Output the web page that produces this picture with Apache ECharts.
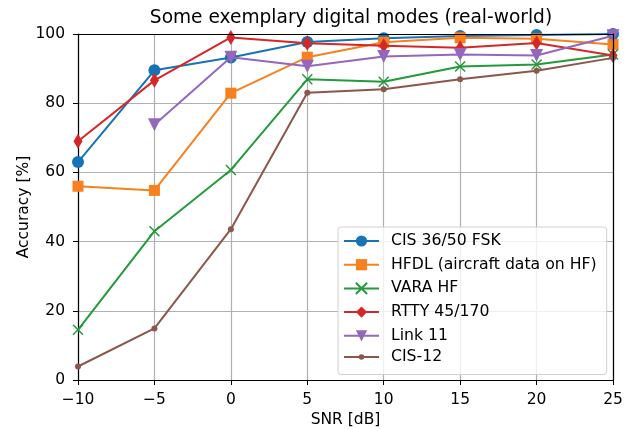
<!DOCTYPE html>
<html><head><meta charset="utf-8">
<script src="https://cdn.jsdelivr.net/npm/echarts@6/dist/echarts.min.js"></script>
<style>html,body{margin:0;padding:0;background:#fff}#c{width:631px;height:429px}</style>
</head><body><div id="c"></div>
<script>
const snr = [-10, -5, 0, 5, 10, 15, 20, 25];
const cis3650 = [63.0, 89.5, 93.2, 97.7, 98.8, 99.4, 99.7, 100];
const hfdl = [56.0, 54.8, 82.9, 93.3, 97.6, 98.9, 98.6, 97.0];
const vara = [14.5, 43.0, 60.7, 86.9, 86.2, 90.6, 91.2, 94.1];
const rtty = [69.0, 86.6, 99.0, 97.3, 96.6, 96.0, 97.4, 93.8];
const link11 = [null, 73.8, 93.3, 90.7, 93.5, 94.1, 93.8, 99.5];
const cis12 = [3.9, 14.9, 43.6, 83.0, 84.0, 86.9, 89.4, 93.1];
const names = ['CIS 36/50 FSK', 'HFDL (aircraft data on HF)', 'VARA HF', 'RTTY 45/170', 'Link 11', 'CIS-12'];
const yTicks = [0, 20, 40, 60, 80, 100];

const font = 'DejaVu Sans';
const fs = 15.5;
const pair = arr => snr.map((x, i) => [x, arr[i]]).filter(p => p[1] !== null);
const colors = ['#1673b5', '#f7801f', '#239a3b', '#d62728', '#9467bd', '#8c564b'];
const sym = [
  {symbol: 'circle', symbolSize: 12},
  {symbol: 'rect', symbolSize: 11},
  {symbol: 'path://M0,0L10,10M10,0L0,10', symbolSize: 10},
  {symbol: 'diamond', symbolSize: [9, 15]},
  {symbol: 'triangle', symbolSize: 13, symbolRotate: 180},
  {symbol: 'circle', symbolSize: 6}
];
const dataArrs = [cis3650, hfdl, vara, rtty, link11, cis12];
const series = dataArrs.map((arr, i) => {
  const s = {
    name: names[i], type: 'line', data: pair(arr),
    symbol: sym[i].symbol, symbolSize: sym[i].symbolSize,
    showAllSymbol: true,
    lineStyle: {color: colors[i], width: 2},
    itemStyle: {color: colors[i], opacity: 1},
    emphasis: {disabled: true},
    z: 2 + i
  };
  if (sym[i].symbolRotate) s.symbolRotate = sym[i].symbolRotate;
  if (i === 2) { s.itemStyle = {color: 'rgba(0,0,0,0)', borderColor: colors[i], borderWidth: 1.5}; }
  return s;
});

const axisText = {fontFamily: font, fontSize: fs, color: '#000'};
const frameAxis = (pos, type) => ({
  type: 'value', position: pos, min: type === 'x' ? -10 : 0, max: type === 'x' ? 25 : 100,
  interval: type === 'x' ? 5 : 20,
  axisLine: {show: true, onZero: false, lineStyle: {color: '#000', width: 1.2}},
  axisTick: {show: false}, axisLabel: {show: false}, splitLine: {show: false}, z: 10
});

const chart = echarts.init(document.getElementById('c'), null, {renderer: 'canvas'});
chart.setOption({
  animation: false,
  textStyle: {fontFamily: font},
  title: {text: 'Some exemplary digital modes (real-world)', left: 346, textAlign: 'center', top: 4,
    textStyle: {fontFamily: font, fontSize: 18.6, fontWeight: 'normal', color: '#000'}},
  grid: {left: 78, right: 18, top: 34, bottom: 49, containLabel: false, outerBoundsMode: 'none'},
  legend: [{
    orient: 'vertical', left: 338, top: 227,
    padding: [6, 10, 6 + 23.2 + 1.5, 5], itemGap: 7.7, itemWidth: 35, itemHeight: 14,
    backgroundColor: 'rgba(255,255,255,0.8)', borderColor: '#d0d0d0', borderWidth: 1, borderRadius: 3,
    textStyle: {fontFamily: font, fontSize: 15.7, color: '#000', padding: [0, 0, 0, 7]},
    data: names.slice(0, 5)
  }, {
    orient: 'vertical', left: 338, top: 349,
    padding: [0, 8, 0, 5], itemWidth: 35, itemHeight: 7,
    textStyle: {fontFamily: font, fontSize: 15.7, color: '#000', padding: [0, 0, 0, 7]},
    data: names.slice(5)
  }],
  xAxis: [{
    type: 'value', min: -10, max: 25, interval: 5,
    name: 'SNR [dB]', nameLocation: 'middle', nameGap: 32, nameMoveOverlap: false,
    nameTextStyle: axisText,
    axisLine: {show: true, onZero: false, lineStyle: {color: '#000', width: 1.2}},
    axisTick: {show: true, inside: false, length: 5, lineStyle: {color: '#000'}},
    axisLabel: Object.assign({margin: 12, formatter: v => String(v).replace('-', '\u2212')}, axisText),
    splitLine: {show: true, lineStyle: {color: '#b0b0b0', width: 1.2}}
  }, frameAxis('top', 'x')],
  yAxis: [{
    type: 'value', min: 0, max: 100, interval: 20,
    name: 'Accuracy [%]', nameLocation: 'middle', nameGap: 46, nameMoveOverlap: false,
    nameTextStyle: axisText,
    axisLine: {show: true, onZero: false, lineStyle: {color: '#000', width: 1.2}},
    axisTick: {show: true, inside: false, length: 5, lineStyle: {color: '#000'}},
    axisLabel: Object.assign({margin: 13, formatter: v => yTicks.includes(v) ? String(v) : ''}, axisText),
    splitLine: {show: true, lineStyle: {color: '#b0b0b0', width: 1.2}}
  }, frameAxis('right', 'y')],
  series: series
});
</script></body></html>
